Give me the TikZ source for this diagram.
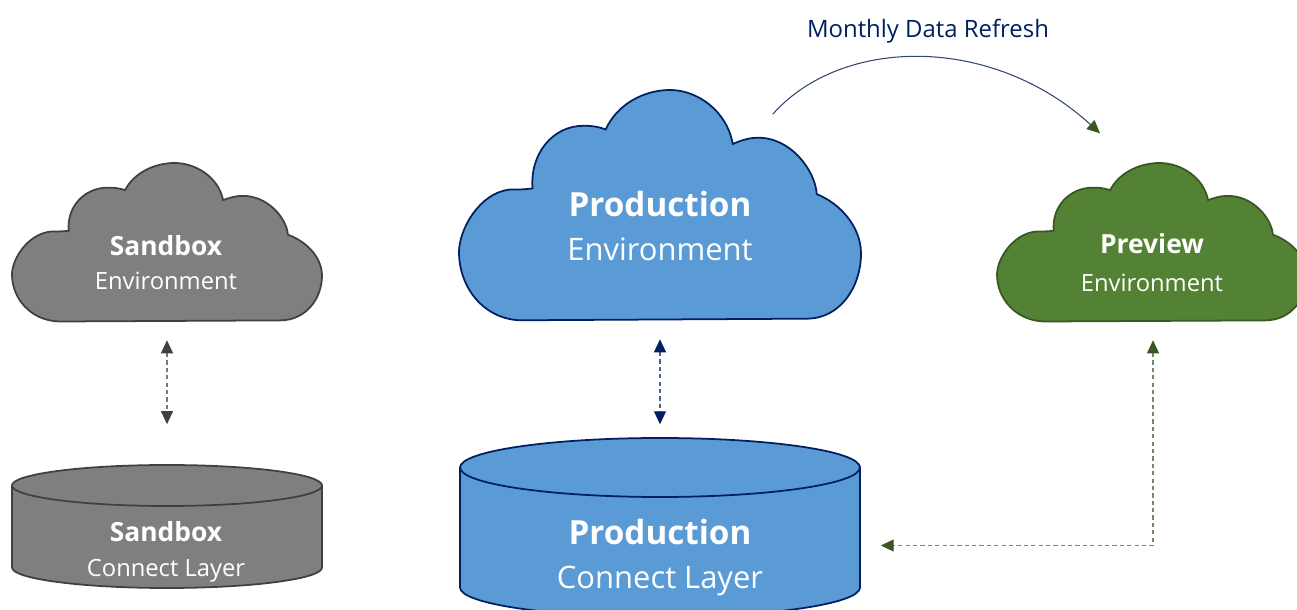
\documentclass[tikz,border=0pt]{standalone}
\usepackage{fontspec}
\usepackage{xcolor}
\usetikzlibrary{arrows.meta,calc}
\setmainfont{Open Sans}
\definecolor{prodblue}{HTML}{5B9BD5}
\definecolor{prodnavy}{HTML}{002060}
\definecolor{sandgray}{HTML}{7F7F7F}
\definecolor{sanddark}{HTML}{404040}
\definecolor{prevgreen}{HTML}{548235}
\definecolor{prevdark}{HTML}{385723}
% unit outline of a cloud, y runs downwards
\newcommand{\cloudoutline}{(.151,.997) -- (.865,.990)
  .. controls (.948,.990) and (1,.853) .. (1,.708)
  .. controls (1,.592) and (.948,.491) .. (.890,.451)
  .. controls (.886,.347) and (.824,.202) .. (.741,.207)
  .. controls (.720,.207) and (.699,.220) .. (.681,.234)
  .. controls (.666,.087) and (.591,0) .. (.525,0)
  .. controls (.458,0) and (.392,.065) .. (.365,.171)
  .. controls (.342,.156) and (.326,.155) .. (.309,.155)
  .. controls (.234,.155) and (.176,.275) .. (.183,.426)
  .. controls (.164,.431) and (.145,.431) .. (.126,.431)
  .. controls (.051,.445) and (0,.604) .. (0,.701)
  .. controls (0,.853) and (.060,.990) .. (.151,.997) -- cycle}
% name, style, left, top, width, height
\newcommand{\cloudnode}[6]{
  \draw[#2,shift={(#3,#4)},xscale=#5,yscale=#6] \cloudoutline;
  \node[minimum width=#5*0.01cm,minimum height=#6*0.01cm,inner sep=0pt] (#1) at (#3+#5/2,#4+#6/2) {};
}
% name, style, left, top, width, ellipse radius, side length
\newcommand{\storenode}[7]{
  \draw[#2,shift={(#3+#5/2,#4+#6)},xscale=#5/2,yscale=#6] (-1,0) -- (-1,#7/#6)
    arc[start angle=180,end angle=0,radius=1] -- (1,0) -- cycle;
  \draw[#2,shift={(#3+#5/2,#4+#6)},xscale=#5/2,yscale=#6] (0,0) circle[radius=1];
  \node[minimum width=#5*0.01cm,minimum height=(2*#6+#7)*0.01cm,inner sep=0pt] (#1) at (#3+#5/2,#4+#6+#7/2) {};
}
\begin{document}
\begin{tikzpicture}[x=0.01cm,y=-0.01cm,
  prodshape/.style={draw=prodnavy,fill=prodblue,line width=0.5pt},
  sandshape/.style={draw=sanddark,fill=sandgray,line width=0.5pt},
  prevshape/.style={draw=prevdark,fill=prevgreen,line width=0.5pt},
  bighead/.style={font=\fontsize{9.45}{11}\selectfont\bfseries,text=white,inner sep=0pt},
  bigsub/.style={font=\fontsize{8.8}{10}\selectfont,text=white,inner sep=0pt},
  smallhead/.style={font=\fontsize{7.5}{9}\selectfont\bfseries,text=white,inner sep=0pt},
  smallsub/.style={font=\fontsize{6.75}{8}\selectfont,text=white,inner sep=0pt},
  dasharr/.style={{Triangle[length=3.7pt,width=3.4pt,color=#1]}-{Triangle[length=3.7pt,width=3.4pt,color=#1]},#1!70!white,line width=0.35pt,dash pattern=on 1.2pt off 0.9pt}
]
\useasboundingbox (0,0) rectangle (1297,610);
\clip (0,0) rectangle (1297,610);

\cloudnode{sandcloud}{sandshape}{12}{163}{310}{159}
\cloudnode{prodcloud}{prodshape}{459}{90}{402}{231}
\cloudnode{prevcloud}{prevshape}{997}{163}{310}{159}
\storenode{sandstore}{sandshape}{12}{465}{310}{20.5}{82}
\storenode{prodstore}{prodshape}{460}{438}{400}{29.5}{120}

\node[smallhead] (sandcloudhead) at (166,246) {Sandbox};
\node[smallsub] (sandcloudsub) at (166,281) {Environment};
\node[bighead] (prodcloudhead) at (660,204) {Production};
\node[bigsub] (prodcloudsub) at (660,249) {Environment};
\node[smallhead] (prevcloudhead) at (1152,244) {Preview};
\node[smallsub] (prevcloudsub) at (1152,283) {Environment};
\node[smallhead] (sandstorehead) at (166,532) {Sandbox};
\node[smallsub] (sandstoresub) at (166,571) {Connect Layer};
\node[bighead] (prodstorehead) at (660,532) {Production};
\node[bigsub] (prodstoresub) at (660,581) {Connect Layer};
\node[font=\fontsize{6.8}{8}\selectfont,text=prodnavy,inner sep=0pt] (refreshlabel) at (928,31) {Monthly Data Refresh};

\draw[dasharr=sanddark,shorten <=5pt,shorten >=11.4pt] (sandcloud.south) -- (sandstore.north);
\draw[dasharr=prodnavy,shorten <=5pt,shorten >=3.7pt] (prodcloud.south) -- (prodstore.north);
\draw[dasharr=prevdark,shorten <=5pt] (prevcloud.south) ++(1,0) |- ($(prodstore.east)+(20,18)$);
\draw[-{Triangle[length=3.7pt,width=3.4pt,color=prevdark]},prodnavy!60!gray,line width=0.3pt]
  ($(prodcloud.north east)+(-89,25)$) .. controls ($(prodcloud.north east)+(-20,-53)$) and ($(prevcloud.north)+(-160,-128)$) .. ($(prevcloud.north)+(-52,-29)$);
\end{tikzpicture}
\end{document}
